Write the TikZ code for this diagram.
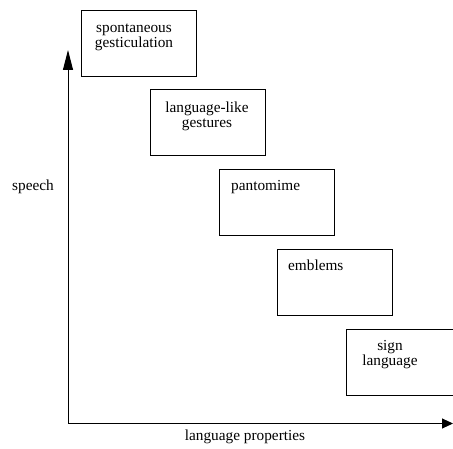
\documentclass[tikz,border=0pt]{standalone}
\usepackage{fontspec}
\setmainfont{Liberation Serif}
\usetikzlibrary{arrows.meta}
\begin{document}
\begin{tikzpicture}[x=1pt,y=-1pt,
  box/.style={draw,line width=1pt,minimum width=115pt,minimum height=66pt,inner sep=0pt,anchor=north west},
  lbl/.style={font=\fontsize{15.3}{17}\selectfont,inner sep=0pt,align=center},
  axis/.style={line width=1pt}]
\useasboundingbox (0,0) rectangle (453,449);
\clip (0,0) rectangle (453,449);
\fill[white] (0,0) rectangle (453,449);
% boxes
\node[box] (b1) at (80.5,10) {};
\node[box] (b2) at (149.5,89.5) {};
\node[box] (b3) at (218.5,169.5) {};
\node[box] (b4) at (276.5,249.5) {};
\node[box] (b5) at (345.5,329.5) {};
% texts
\node[lbl,anchor=base] (t1a) at (134,33) {spontaneous};
\node[lbl,anchor=base] (t1b) at (134,48) {gesticulation};
\node[lbl,anchor=base] (t2a) at (207,113) {language-like};
\node[lbl,anchor=base] (t2b) at (207,128) {gestures};
\node[lbl,anchor=base west] (t3) at (231,191) {pantomime};
\node[lbl,anchor=base west] (t4) at (288,271) {emblems};
\node[lbl,anchor=base] (t5a) at (390,351) {sign};
\node[lbl,anchor=base] (t5b) at (390,366) {language};
\node[lbl,anchor=base west] (ys) at (12,191) {speech};
\node[lbl,anchor=base] (xs) at (245,440) {language properties};
% axes
\coordinate (o) at (68,423.5);
\coordinate (ytip) at (68,50);
\coordinate (xtip) at (453,423.5);
\draw[axis,-{Triangle[length=20pt,width=10pt]}] (o) -- (ytip);
\draw[axis,-{Triangle[length=11pt,width=10pt]}] (o) -- (xtip);
\end{tikzpicture}
\end{document}
